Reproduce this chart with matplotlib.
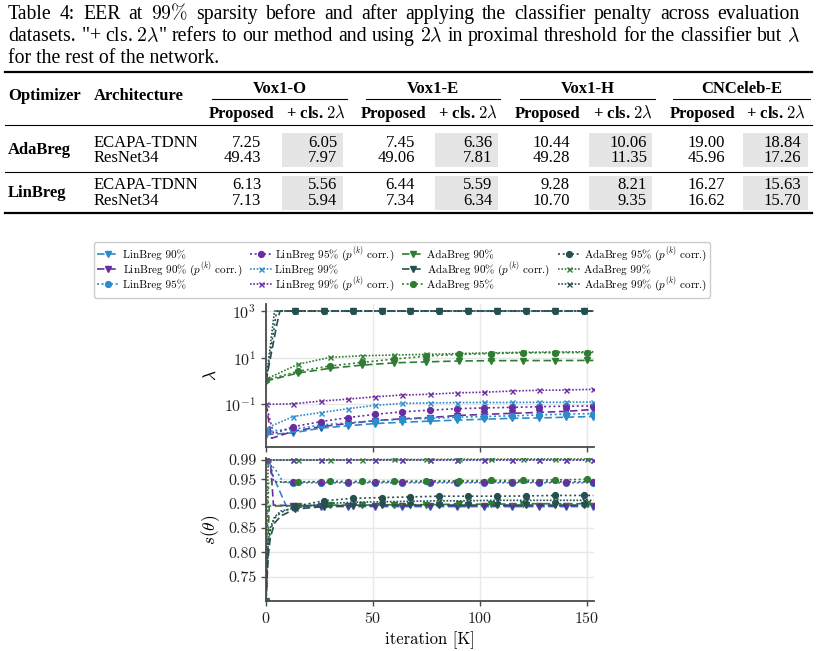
import matplotlib
matplotlib.use("Agg")
import matplotlib.pyplot as plt
from matplotlib.lines import Line2D
from matplotlib.patches import Rectangle
from matplotlib.ticker import FixedLocator, NullLocator, FixedFormatter

plt.rcParams['mathtext.fontset'] = 'cm'
plt.rcParams['axes.formatter.use_mathtext'] = True
plt.rcParams['font.family'] = ['cmr10', 'DejaVu Serif']

# ---------------- table data ----------------
caption_line1 = ["Table", "4:", "EER", "at", r"$99\%$", "sparsity", "before", "and", "after", "applying",
                 "the", "classifier", "penalty", "across", "evaluation"]
caption_line2 = ["datasets.", r'"+ cls. $2\lambda$"', "refers", "to", "our", "method", "and", "using",
                 r"$2\lambda$", "in", "proximal", "threshold", "for", "the", "classifier", "but", r"$\lambda$"]
caption_line3 = "for the rest of the network."
datasets = ["Vox1-O", "Vox1-E", "Vox1-H", "CNCeleb-E"]
sub_headers = ["Proposed", r"+ cls. $2\lambda$"]
optimizers = ["AdaBreg", "LinBreg"]
architectures = ["ECAPA-TDNN", "ResNet34"]
eer_adabreg_ecapa = ["7.25", "6.05", "7.45", "6.36", "10.44", "10.06", "19.00", "18.84"]
eer_adabreg_resnet = ["49.43", "7.97", "49.06", "7.81", "49.28", "11.35", "45.96", "17.26"]
eer_linbreg_ecapa = ["6.13", "5.56", "6.44", "5.59", "9.28", "8.21", "16.27", "15.63"]
eer_linbreg_resnet = ["7.13", "5.94", "7.34", "6.34", "10.70", "9.35", "16.62", "15.70"]

# ---------------- chart data (x in K iterations) ----------------
grid_lin = [12.75, 25.5, 38.25, 51, 63.75, 76.5, 89.25, 102, 114.75, 127.5, 140.25, 153]
grid_ada = [15, 30, 45, 60, 75, 90, 105, 120, 135, 150, 153]
grid_adac = [13.5, 27, 40.5, 54, 67.5, 81, 94.5, 108, 121.5, 135, 148.5, 153]

# LinBreg 90%
lin90_lam_x = [0] + grid_lin
lin90_lam = [0.005, 0.006, 0.0095, 0.012, 0.015, 0.017, 0.019, 0.021, 0.023, 0.025, 0.026, 0.028, 0.030]
lin90_sp_x = [0, 4, 9.5] + grid_lin
lin90_sp = [0.99, 0.95, 0.895, 0.894, 0.894, 0.894, 0.894, 0.894, 0.894, 0.894, 0.894, 0.894, 0.894, 0.894, 0.894]
# LinBreg 90% corr
lin90c_lam_x = [0, 2.6] + grid_lin
lin90c_lam = [0.1, 0.0035, 0.007, 0.011, 0.015, 0.02, 0.024, 0.027, 0.033, 0.037, 0.041, 0.045, 0.05, 0.06]
lin90c_sp_x = [0, 2, 3.5] + grid_lin
lin90c_sp = [0.99, 0.99, 0.897, 0.896, 0.896, 0.896, 0.896, 0.896, 0.896, 0.896, 0.896, 0.896, 0.896, 0.896, 0.896]
# LinBreg 95%
lin95_lam_x = [0] + grid_lin
lin95_lam = [0.007, 0.0085, 0.013, 0.016, 0.02, 0.023, 0.025, 0.028, 0.030, 0.032, 0.035, 0.038, 0.040]
lin95_sp_x = [0, 4.5, 8] + grid_lin
lin95_sp = [0.99, 0.97, 0.944, 0.943, 0.943, 0.943, 0.943, 0.943, 0.943, 0.943, 0.943, 0.943, 0.943, 0.943, 0.943]
# LinBreg 95% corr
lin95c_lam_x = [0, 3.5] + grid_lin
lin95c_lam = [0.1, 0.0055, 0.011, 0.018, 0.027, 0.037, 0.048, 0.056, 0.065, 0.07, 0.074, 0.079, 0.083, 0.085]
lin95c_sp_x = [0, 2, 3.5] + grid_lin
lin95c_sp = [0.99, 0.99, 0.945, 0.945, 0.945, 0.945, 0.945, 0.945, 0.945, 0.945, 0.945, 0.945, 0.945, 0.945, 0.945]
# LinBreg 99%
lin99_lam_x = [0] + grid_lin
lin99_lam = [0.0093, 0.030, 0.044, 0.065, 0.09, 0.11, 0.115, 0.118, 0.12, 0.12, 0.122, 0.123, 0.125]
lin99_sp_x = [0] + grid_lin
lin99_sp = [0.9895, 0.9895, 0.9895, 0.9895, 0.9895, 0.9895, 0.9895, 0.9895, 0.9895, 0.9895, 0.9895, 0.9895, 0.9895]
# LinBreg 99% corr
lin99c_lam_x = [0] + grid_lin
lin99c_lam = [0.1, 0.105, 0.137, 0.167, 0.21, 0.25, 0.27, 0.31, 0.33, 0.37, 0.40, 0.41, 0.44]
lin99c_sp_x = [0] + grid_lin
lin99c_sp = [0.989, 0.989, 0.989, 0.989, 0.989, 0.989, 0.989, 0.989, 0.989, 0.989, 0.989, 0.989, 0.989]
# AdaBreg 90%
ada90_lam_x = [0] + grid_ada
ada90_lam = [1.0, 2.2, 3.5, 4.8, 6.0, 6.6, 7.2, 7.4, 7.5, 7.5, 7.6, 7.6]
ada90_sp_x = [0, 1.5] + grid_ada
ada90_sp = [0.70, 0.895, 0.896, 0.897, 0.897, 0.898, 0.898, 0.899, 0.899, 0.9, 0.9, 0.9, 0.9]
# AdaBreg 90% corr
ada90c_lam_x = [0, 1, 2, 3, 4, 5, 6.5] + grid_adac
ada90c_lam = [1, 3, 9, 27, 80, 250, 1000, 1000, 1000, 1000, 1000, 1000, 1000, 1000, 1000, 1000, 1000, 1000, 1000]
ada90c_sp_x = [0, 1, 2, 4, 7] + grid_adac
ada90c_sp = [0.70, 0.79, 0.83, 0.86, 0.875, 0.889, 0.894, 0.896, 0.897, 0.897, 0.897, 0.897, 0.897, 0.897, 0.897, 0.897, 0.897]
# AdaBreg 95%
ada95_lam_x = [0] + grid_ada
ada95_lam = [1.1, 2.6, 4.4, 6.3, 8.7, 11.7, 13.8, 15, 16, 16.3, 16.5, 16.5]
ada95_sp_x = [0, 1.2] + grid_ada
ada95_sp = [0.70, 0.945, 0.945, 0.946, 0.946, 0.946, 0.947, 0.947, 0.948, 0.948, 0.949, 0.95, 0.95]
# AdaBreg 95% corr
ada95c_lam_x = [0, 1, 2, 3, 4, 5] + grid_adac
ada95c_lam = [1, 4, 16, 64, 250, 1000, 1000, 1000, 1000, 1000, 1000, 1000, 1000, 1000, 1000, 1000, 1000, 1000]
ada95c_sp_x = [0, 1, 2, 4, 7] + grid_adac
ada95c_sp = [0.70, 0.81, 0.845, 0.87, 0.882, 0.8945, 0.906, 0.911, 0.9126, 0.914, 0.9155, 0.9155, 0.9155, 0.916, 0.917, 0.917, 0.917]
# AdaBreg 99%
ada99_lam_x = [0] + grid_ada
ada99_lam = [1.2, 5.2, 10.3, 12, 13, 13.8, 15, 16, 17, 17.5, 17.8, 17.8]
ada99_sp_x = [0, 1] + grid_ada
ada99_sp = [0.70, 0.99, 0.99, 0.99, 0.9905, 0.991, 0.991, 0.9915, 0.9915, 0.992, 0.992, 0.992, 0.992]
# AdaBreg 99% corr
ada99c_lam_x = [0, 1, 2, 3, 4] + grid_adac
ada99c_lam = [1, 5.6, 32, 180, 1000, 1000, 1000, 1000, 1000, 1000, 1000, 1000, 1000, 1000, 1000, 1000, 1000]
ada99c_sp_x = [0, 1, 2, 4, 7] + grid_adac
ada99c_sp = [0.70, 0.82, 0.85, 0.873, 0.885, 0.891, 0.90, 0.903, 0.904, 0.905, 0.906, 0.906, 0.907, 0.907, 0.907, 0.907, 0.907]

series_labels = [
    "LinBreg 90%", r"LinBreg 90% ($p^{(k)}$ corr.)", "LinBreg 95%",
    r"LinBreg 95% ($p^{(k)}$ corr.)", "LinBreg 99%", r"LinBreg 99% ($p^{(k)}$ corr.)",
    "AdaBreg 90%", r"AdaBreg 90% ($p^{(k)}$ corr.)", "AdaBreg 95%",
    r"AdaBreg 95% ($p^{(k)}$ corr.)", "AdaBreg 99%", r"AdaBreg 99% ($p^{(k)}$ corr.)",
]

C_LIN, C_LINC, C_ADA, C_ADAC = '#2b8ccb', '#6a2ca0', '#2f7d32', '#25504f'
LS90, LS95, LS99 = (0, (4.5, 2.2)), (0, (1.2, 1.6)), (0, (1.0, 1.0))
series = [
    (lin90_lam_x, lin90_lam, lin90_sp_x, lin90_sp, C_LIN, LS90, 'v', [0] + grid_lin),
    (lin90c_lam_x, lin90c_lam, lin90c_sp_x, lin90c_sp, C_LINC, LS90, 'v', grid_lin),
    (lin95_lam_x, lin95_lam, lin95_sp_x, lin95_sp, C_LIN, LS95, 'o', [0] + grid_lin),
    (lin95c_lam_x, lin95c_lam, lin95c_sp_x, lin95c_sp, C_LINC, LS95, 'o', grid_lin),
    (lin99_lam_x, lin99_lam, lin99_sp_x, lin99_sp, C_LIN, LS99, 'x', [0] + grid_lin),
    (lin99c_lam_x, lin99c_lam, lin99c_sp_x, lin99c_sp, C_LINC, LS99, 'x', [0] + grid_lin),
    (ada90_lam_x, ada90_lam, ada90_sp_x, ada90_sp, C_ADA, LS90, 'v', [0] + grid_ada[:-1]),
    (ada90c_lam_x, ada90c_lam, ada90c_sp_x, ada90c_sp, C_ADAC, LS90, 'v', grid_adac[:-1]),
    (ada95_lam_x, ada95_lam, ada95_sp_x, ada95_sp, C_ADA, LS95, 'o', [0] + grid_ada[:-1]),
    (ada95c_lam_x, ada95c_lam, ada95c_sp_x, ada95c_sp, C_ADAC, LS95, 'o', grid_adac[:-1]),
    (ada99_lam_x, ada99_lam, ada99_sp_x, ada99_sp, C_ADA, LS99, 'x', [0] + grid_ada[:-1]),
    (ada99c_lam_x, ada99c_lam, ada99c_sp_x, ada99c_sp, C_ADAC, LS99, 'x', grid_adac[:-1]),
]

# ---------------- figure ----------------
W, H = 821, 651
fig = plt.figure(figsize=(W / 100, H / 100), dpi=100)
renderer = fig.canvas.get_renderer()
TF = ['Liberation Serif', 'DejaVu Serif']


def ftext(x, y, s, size=12.5, weight='normal', ha='left'):
    return fig.text(x / W, 1 - y / H, s, fontsize=size, family=TF, weight=weight, ha=ha, va='baseline')


def hrule(y, x0, x1, lw):
    fig.add_artist(Line2D([x0 / W, x1 / W], [1 - y / H, 1 - y / H], color='black', lw=lw,
                          transform=fig.transFigure))


def justify(words, y, x0, x1, size):
    texts = [ftext(0, y, w, size) for w in words]
    widths = [t.get_window_extent(renderer).width for t in texts]
    gap = (x1 - x0 - sum(widths)) / (len(words) - 1)
    x = x0
    for t, w in zip(texts, widths):
        t.set_x(x / W)
        x += w + gap


CAP = 14.2
justify(caption_line1, 19, 8, 800, CAP)
justify(caption_line2, 41, 8, 800, CAP)
ftext(8, 63, caption_line3, CAP)

# table
TS = 12.0
hrule(72, 5, 812, 1.6)
ftext(8, 100, "Optimizer", TS, 'bold')
ftext(94, 100, "Architecture", TS, 'bold')
cmid = [(212, 347), (366, 500), (520, 655), (673, 810)]
sub_centers = [(242, 316), (394, 468), (548, 623), (703, 776)]
num_right = [261, 337, 415, 492, 570, 647, 725, 801]
shade = [(282, 343), (435, 498), (589, 652), (743, 808)]
for name, (a, b), (p, c) in zip(datasets, cmid, sub_centers):
    ftext((a + b) / 2, 93, name, TS, 'bold', ha='center')
    hrule(99, a, b, 0.8)
    ftext(p, 118, sub_headers[0], TS, 'bold', ha='center')
    ftext(c, 118, sub_headers[1], TS, 'bold', ha='center')
hrule(125, 5, 812, 0.8)
for (a, b) in shade:
    for (y0, y1) in [(133, 167), (176, 210)]:
        fig.add_artist(Rectangle((a / W, 1 - y1 / H), (b - a) / W, (y1 - y0) / H,
                                 transform=fig.transFigure, color='#e5e5e5', zorder=0, lw=0))
rows = [(optimizers[0], [eer_adabreg_ecapa, eer_adabreg_resnet], 147, 162, 154),
        (optimizers[1], [eer_linbreg_ecapa, eer_linbreg_resnet], 189, 205, 197)]
for opt, vals, y1, y2, yo in rows:
    ftext(8, yo, opt, TS, 'bold')
    for arch, v, y in zip(architectures, vals, (y1, y2)):
        ftext(94, y, arch, TS)
        for xr, s in zip(num_right, v):
            ftext(xr, y, s, TS, ha='right')
    if opt == optimizers[0]:
        hrule(172, 5, 812, 0.8)
hrule(213, 5, 812, 1.6)

# ---------------- chart ----------------
ax1 = fig.add_axes([266 / W, 1 - 447 / H, (594 - 266) / W, (447 - 304) / H])
ax2 = fig.add_axes([266 / W, 1 - 601 / H, (594 - 266) / W, (601 - 458) / H], sharex=ax1)

handles = []
for (lx, ly, sx, sy, col, ls, mk, mpos), lab in zip(series, series_labels):
    ms = 3.6 if mk == 'x' else 4.2
    lme = [i for i, v in enumerate(lx) if v in mpos]
    sme = [i for i, v in enumerate(sx) if v in mpos]
    h, = ax1.plot(lx, ly, color=col, ls=ls, lw=1.2, marker=mk, ms=ms, markevery=lme,
                  mew=1.0, label=lab)
    ax2.plot(sx, sy, color=col, ls=ls, lw=1.2, marker=mk, ms=ms, markevery=sme, mew=1.0)
    handles.append(h)

SPC = '#4a4a4a'
for ax in (ax1, ax2):
    for s in ('top', 'right'):
        ax.spines[s].set_visible(False)
    for s in ('left', 'bottom'):
        ax.spines[s].set_color(SPC)
        ax.spines[s].set_linewidth(1.3)
    ax.grid(True, color='#e8e8e8', lw=1.0)
    ax.set_axisbelow(True)
    ax.tick_params(direction='out', length=3.5, width=1.0, color=SPC, labelsize=11.5, labelcolor='#222222')

ax1.set_yscale('log')
ax1.set_ylim(10 ** -2.83, 10 ** 3.3)
ax1.yaxis.set_major_locator(FixedLocator([0.1, 10, 1000]))
ax1.yaxis.set_minor_locator(NullLocator())
ax1.set_ylabel(r'$\lambda$', fontsize=12.5)
ax1.tick_params(axis='x', labelbottom=False)

ax2.set_xlim(0, 153.3)
ax2.xaxis.set_major_locator(FixedLocator([0, 50, 100, 150]))
ax2.set_ylim(0.70, 0.994)
sp_ticks = [0.75, 0.80, 0.85, 0.90, 0.95, 0.99]
ax2.yaxis.set_major_locator(FixedLocator(sp_ticks))
ax2.yaxis.set_major_formatter(FixedFormatter(["%.2f" % t for t in sp_ticks]))
ax2.set_ylabel(r'$s(\theta)$', fontsize=12.5)
ax2.set_xlabel('iteration [K]', fontsize=12)

fig.legend(handles, series_labels, ncol=4, loc='upper center', bbox_to_anchor=(402 / W, 1 - 242 / H),
           fontsize=8, frameon=True, edgecolor='#cccccc', fancybox=True, columnspacing=0.7,
           handlelength=2.0, handletextpad=0.28, borderpad=0.3, labelspacing=0.08, framealpha=1.0,
           borderaxespad=0.0)

fig.savefig('out.png', dpi=100)
